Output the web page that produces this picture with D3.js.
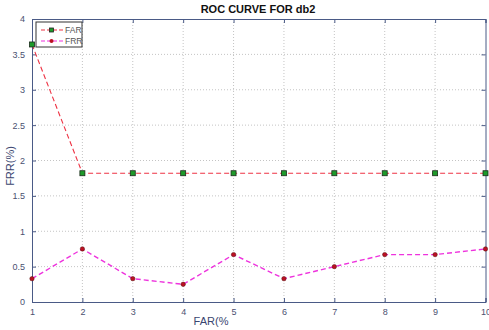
<!DOCTYPE html>
<html>
<head>
<meta charset="utf-8">
<script src="https://cdn.jsdelivr.net/npm/d3@7"></script>
<style>
  body { margin: 0; background: #fff; }
  text { font-family: "Liberation Sans", Arial, sans-serif; }
</style>
</head>
<body>
<svg id="chart" width="489" height="330"></svg>
<script>
// Data
const farValues = [1, 2, 3, 4, 5, 6, 7, 8, 9, 10];
const farSeries = [3.64, 1.82, 1.82, 1.82, 1.82, 1.82, 1.82, 1.82, 1.82, 1.82];
const frrSeries = [0.33, 0.75, 0.33, 0.25, 0.67, 0.33, 0.5, 0.67, 0.67, 0.75];
const yTicks = [0, 0.5, 1, 1.5, 2, 2.5, 3, 3.5, 4];
const seriesNames = ["FAR", "FRR"];

const svg = d3.select("#chart");
const MARGIN = { left: 32, right: 3.5, top: 19, bottom: 28 };
const width = 489, height = 330;

const x = d3.scaleLinear().domain([1, 10]).range([MARGIN.left, width - MARGIN.right]);
const y = d3.scaleLinear().domain([0, 4]).range([height - MARGIN.bottom, MARGIN.top]);

const axisColor = "#4a5a86";
const farColor = "#ee3344", frrColor = "#ee33dd";

// grid
const grid = svg.append("g");
grid.selectAll("line.vx")
  .data(farValues.slice(1, -1))
  .join("line")
  .attr("x1", d => x(d)).attr("x2", d => x(d))
  .attr("y1", y(0)).attr("y2", y(4))
  .attr("stroke", "#c4c4c4").attr("stroke-dasharray", "1,2");
grid.selectAll("line.hy")
  .data(yTicks.slice(1, -1))
  .join("line")
  .attr("y1", d => y(d)).attr("y2", d => y(d))
  .attr("x1", x(1)).attr("x2", x(10))
  .attr("stroke", "#c4c4c4").attr("stroke-dasharray", "1,2");

// axes (box with inward ticks)
const axBottom = svg.append("g")
  .attr("transform", `translate(0,${y(0)})`)
  .call(d3.axisBottom(x).tickValues(farValues).tickSize(-4).tickPadding(7).tickFormat(d3.format("d")));
const axTop = svg.append("g")
  .attr("transform", `translate(0,${y(4)})`)
  .call(d3.axisTop(x).tickValues(farValues).tickSize(-4).tickFormat(""));
const axLeft = svg.append("g")
  .attr("transform", `translate(${x(1)},0)`)
  .call(d3.axisLeft(y).tickValues(yTicks).tickSize(-4).tickPadding(7).tickFormat(d3.format("")));
const axRight = svg.append("g")
  .attr("transform", `translate(${x(10)},0)`)
  .call(d3.axisRight(y).tickValues(yTicks).tickSize(-4).tickFormat(""));

[axBottom, axTop, axLeft, axRight].forEach(g => {
  g.selectAll("path").attr("stroke", axisColor);
  g.selectAll("line").attr("stroke", axisColor);
  g.selectAll("text").attr("fill", "#4a5070").style("font-size", "9px");
});

// lines
const line = d3.line().x((d, i) => x(farValues[i])).y(d => y(d));

svg.append("path")
  .datum(farSeries)
  .attr("d", line)
  .attr("fill", "none")
  .attr("stroke", farColor)
  .attr("stroke-width", 1.1)
  .attr("stroke-dasharray", "5,3");

svg.append("path")
  .datum(frrSeries)
  .attr("d", line)
  .attr("fill", "none")
  .attr("stroke", frrColor)
  .attr("stroke-width", 1.4)
  .attr("stroke-dasharray", "5,3");

svg.selectAll("rect.far")
  .data(farSeries)
  .join("rect")
  .attr("class", "far")
  .attr("x", (d, i) => x(farValues[i]) - 2.5)
  .attr("y", d => y(d) - 2.5)
  .attr("width", 5).attr("height", 5)
  .attr("fill", "#1e9a2a")
  .attr("stroke", "#1a2a1a").attr("stroke-width", 0.8);

svg.selectAll("circle.frr")
  .data(frrSeries)
  .join("circle")
  .attr("class", "frr")
  .attr("cx", (d, i) => x(farValues[i]))
  .attr("cy", d => y(d))
  .attr("r", 2.2)
  .attr("fill", "#bb1122")
  .attr("stroke", "#551111").attr("stroke-width", 0.5);

// legend
const legend = svg.append("g").attr("transform", "translate(36,22)");
legend.append("rect")
  .attr("width", 46).attr("height", 25)
  .attr("fill", "#fff").attr("stroke", "#333").attr("stroke-width", 1);
seriesNames.forEach((name, i) => {
  const ly = 8 + i * 11;
  legend.append("line")
    .attr("x1", 5).attr("x2", 27).attr("y1", ly).attr("y2", ly)
    .attr("stroke", i === 0 ? farColor : frrColor)
    .attr("stroke-width", 1.1)
    .attr("stroke-dasharray", "4,2");
  if (i === 0) {
    legend.append("rect").attr("x", 13.5).attr("y", ly - 2).attr("width", 4).attr("height", 4)
      .attr("fill", "#1e9a2a").attr("stroke", "#222").attr("stroke-width", 0.8);
  } else {
    legend.append("circle").attr("cx", 15.5).attr("cy", ly).attr("r", 2).attr("fill", "#bb1122");
  }
  legend.append("text")
    .attr("x", 29).attr("y", ly + 3)
    .style("font-size", "8.5px").attr("fill", "#555")
    .text(name);
});

// title and labels
svg.append("text")
  .attr("x", 258).attr("y", 13)
  .attr("text-anchor", "middle")
  .style("font-size", "11px").style("font-weight", "bold")
  .attr("fill", "#111")
  .text("ROC CURVE FOR db2");

svg.append("text")
  .attr("x", 211).attr("y", 325)
  .attr("text-anchor", "middle")
  .style("font-size", "11px").attr("fill", "#3a4670")
  .text("FAR(%");

svg.append("text")
  .attr("transform", "translate(14,166) rotate(-90)")
  .attr("text-anchor", "middle")
  .style("font-size", "11px").attr("fill", "#3a4670")
  .text("FRR(%)");
</script>
</body>
</html>
